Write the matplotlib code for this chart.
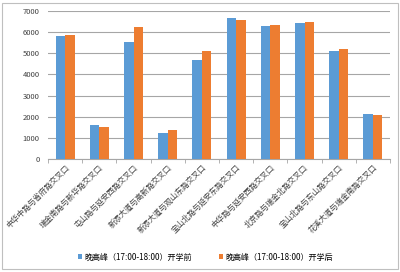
import matplotlib.pyplot as plt
import numpy as np
from matplotlib.patches import Rectangle

plt.rcParams['font.family'] = ['Noto Sans CJK SC', 'DejaVu Sans']

categories = ['中华中路与省府路交叉口', '瑞金南路与新华路交叉口', '屯山路与延安西路交叉口',
              '新添大道与高新路交叉口', '新添大道与观山东路交叉口', '宝山北路与延安东路交叉口',
              '中华路与延安西路交叉口', '北京路与瑞金北路交叉口', '宝山北路与东山路交叉口',
              '花溪大道与瑞金南路交叉口']
before = [5820, 1590, 5530, 1240, 4670, 6650, 6290, 6420, 5110, 2120]
after = [5850, 1540, 6230, 1370, 5090, 6560, 6340, 6480, 5200, 2080]
series_names = ['晚高峰（17:00-18:00）开学前', '晚高峰（17:00-18:00）开学后']

fig = plt.figure(figsize=(4, 2.72), dpi=100)
ax = fig.add_axes([0.12, 0.415, 0.855, 0.545])

x = np.arange(len(categories))
w = 0.28
ax.bar(x - w/2, before, w, color='#5B9BD5', label=series_names[0], zorder=3)
ax.bar(x + w/2, after, w, color='#ED7D31', label=series_names[1], zorder=3)

ax.set_ylim(0, 7000)
ax.set_yticks(range(0, 7001, 1000))
ax.set_xlim(-0.5, len(categories) - 0.5)
ax.grid(axis='y', color='#A6A6A6', linewidth=0.8, zorder=0)
for s in ['top', 'right', 'left']:
    ax.spines[s].set_visible(False)
ax.spines['bottom'].set_color('#A6A6A6')
ax.tick_params(axis='y', length=0, labelsize=5.5, pad=6, colors='#404040')

ax.set_xticks(x)
ax.set_xticklabels(categories, rotation=45, ha='right', rotation_mode='anchor',
                   fontsize=5.6, color='#404040')
ax.tick_params(axis='x', length=0, pad=3)
ax.set_xticks(np.arange(-0.5, len(categories)), minor=True)
ax.tick_params(axis='x', which='minor', length=3, color='#A6A6A6')

ax.legend(loc='center', bbox_to_anchor=(0.46, -0.66), ncol=2, frameon=False,
          fontsize=5.8, handlelength=0.5, handleheight=0.5, columnspacing=3.35,
          handletextpad=0.3)

fig.patches.append(Rectangle((0.005, 0.01), 0.99, 0.98, transform=fig.transFigure,
                             fill=False, edgecolor='#BFBFBF', linewidth=0.8))

fig.savefig('out.png', dpi=100)
